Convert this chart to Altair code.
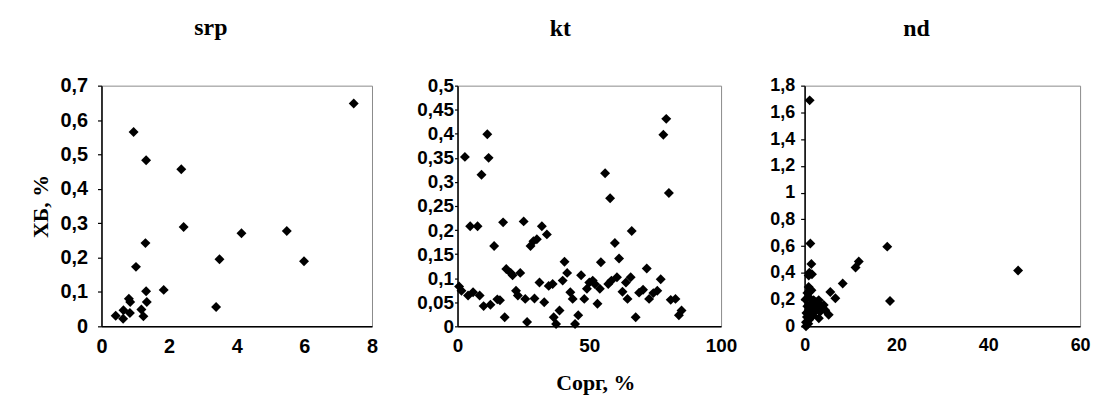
import altair as alt
import pandas as pd

# ---- data ----
srp_x = [7.46, 0.95, 1.32, 2.36, 2.43, 4.14, 5.48, 1.30, 3.49, 5.99, 1.02, 1.84,
         1.32, 0.81, 0.85, 1.34, 3.39, 1.18, 0.65, 0.84, 0.42, 1.24, 0.64]
srp_y = [0.648, 0.565, 0.483, 0.457, 0.289, 0.271, 0.277, 0.242, 0.195, 0.189, 0.173, 0.106,
         0.102, 0.080, 0.071, 0.071, 0.056, 0.049, 0.047, 0.039, 0.031, 0.029, 0.022]

kt_x = [0.6, 1.5, 2.8, 4.0, 4.8, 7.6, 5.9, 8.4, 9.1, 9.9, 11.3, 11.8, 12.5, 13.9, 15.1,
        16.1, 17.3, 17.9, 18.5, 20.2, 20.9, 22.2, 22.9, 23.8, 25.1, 25.7, 26.4, 27.7,
        28.8, 30.1, 29.2, 31.1, 32.0, 32.9, 33.9, 34.6, 36.1, 36.5, 37.4, 38.7, 39.9,
        40.6, 41.6, 42.8, 43.7, 44.6, 45.8, 46.9, 48.1, 49.1, 50.0, 51.3, 52.1, 53.1,
        54.0, 54.4, 56.0, 57.2, 57.9, 58.4, 59.7, 60.5, 61.3, 62.6, 63.9, 64.5, 66.1,
        65.7, 67.6, 68.9, 70.4, 71.8, 72.7, 74.3, 75.8, 77.1, 78.1, 79.2, 80.2, 80.9,
        82.7, 84.0, 85.0]
kt_y = [0.083, 0.074, 0.352, 0.064, 0.208, 0.208, 0.071, 0.064, 0.315, 0.042, 0.399, 0.350,
        0.045, 0.167, 0.056, 0.054, 0.216, 0.019, 0.119, 0.111, 0.106, 0.074, 0.064, 0.111,
        0.218, 0.057, 0.009, 0.167, 0.177, 0.181, 0.058, 0.091, 0.208, 0.050, 0.191, 0.084,
        0.088, 0.019, 0.005, 0.033, 0.095, 0.134, 0.111, 0.071, 0.057, 0.005, 0.023, 0.106,
        0.057, 0.078, 0.091, 0.095, 0.088, 0.047, 0.078, 0.133, 0.318, 0.088, 0.266, 0.095,
        0.173, 0.102, 0.141, 0.072, 0.091, 0.057, 0.198, 0.102, 0.019, 0.070, 0.076, 0.120,
        0.057, 0.069, 0.074, 0.098, 0.398, 0.431, 0.277, 0.055, 0.057, 0.023, 0.033]

nd_x = [1.1, 1.25, 1.47, 1.03, 1.6, 0.9, 0.88, 0.99, 1.5, 0.88, 1.97, 3.07, 2.5, 4.16,
        4.5, 3.4, 2.3, 0.9, 0.6, 1.4, 2.0, 3.6, 2.8, 0.5, 1.0, 5.25, 3.1, 1.8, 0.8, 0.3,
        0.4, 1.2, 0.2, 0.6, 5.6, 6.7, 8.3, 11.1, 11.8, 18.0, 18.6, 46.5, 0.3]
nd_y = [1.69, 0.62, 0.466, 0.40, 0.39, 0.38, 0.294, 0.257, 0.27, 0.22, 0.196, 0.196, 0.18,
        0.16, 0.12, 0.11, 0.11, 0.12, 0.15, 0.17, 0.14, 0.15, 0.13, 0.07, 0.05, 0.086, 0.06,
        0.08, 0.02, 0.0, 0.10, 0.09, 0.20, 0.25, 0.257, 0.21, 0.32, 0.44, 0.485, 0.596,
        0.19, 0.417, 0.03]

titles = ["srp", "kt", "nd"]
x_title = "Сорг, %"
y_title = "ХБ, %"

LABEL_EXPR = "replace(toString(datum.value), '.', ',')"


def panel(xs, ys, title, xdom, xvals, ydom, yvals, w, h, lab_size,
          yext, ytick, ypad, dx, ytitle=False, xtitle=False):
    df = pd.DataFrame({"x": xs, "y": ys})
    xaxis_kw = dict(values=xvals, labelExpr=LABEL_EXPR, grid=False, ticks=False,
                    labelPadding=10, labelFontSize=lab_size, labelFlush=False,
                    labelFont="Liberation Sans", labelFontWeight="bold",
                    labelColor="black", domainColor="black", domainWidth=1.5)
    if xtitle:
        xaxis_kw.update(titlePadding=18, titleFont="Liberation Serif",
                        titleFontWeight="bold", titleFontSize=22, titleColor="black",
                        titleX=w / 2 + 6)
    yaxis_kw = dict(values=yvals, labelExpr=LABEL_EXPR, grid=False, tickSize=ytick,
                    labelPadding=ypad, minExtent=yext, maxExtent=yext,
                    labelFontSize=lab_size, labelFlush=False,
                    labelFont="Liberation Sans", labelFontWeight="bold",
                    labelColor="black", domainColor="black", domainWidth=1.5,
                    tickColor="black", tickWidth=1.2)
    if ytitle:
        yaxis_kw.update(titlePadding=4, titleFont="Liberation Serif",
                        titleFontWeight="bold", titleFontSize=22, titleColor="black")
    xenc = alt.X("x:Q", scale=alt.Scale(domain=xdom, nice=False, zero=False),
                 axis=alt.Axis(**xaxis_kw),
                 title=x_title if xtitle else None)
    yenc = alt.Y("y:Q", scale=alt.Scale(domain=ydom, nice=False, zero=False),
                 axis=alt.Axis(**yaxis_kw),
                 title=y_title if ytitle else None)
    return alt.Chart(df).mark_point(
        shape="diamond", filled=True, size=100, color="black", opacity=1
    ).encode(x=xenc, y=yenc).properties(
        width=w, height=h,
        title=alt.TitleParams(text=title, font="Liberation Serif", fontSize=24,
                              fontWeight="bold", color="black", dx=dx, offset=36,
                              anchor="middle"),
    )


p1 = panel(srp_x, srp_y, titles[0], [0, 8], [0, 2, 4, 6, 8], [0, 0.7],
           [0, 0.1, 0.2, 0.3, 0.4, 0.5, 0.6, 0.7], 272, 242, 20, 45, 4, 10, -26,
           ytitle=True)
p2 = panel(kt_x, kt_y, titles[1], [0, 100], [0, 50, 100], [0, 0.5],
           [0, 0.05, 0.1, 0.15, 0.2, 0.25, 0.3, 0.35, 0.4, 0.45, 0.5], 265, 242, 19,
           47, 3, 1, -29, xtitle=True)
p3 = panel(nd_x, nd_y, titles[2], [0, 60], [0, 20, 40, 60], [0, 1.8],
           [0, 0.2, 0.4, 0.6, 0.8, 1, 1.2, 1.4, 1.6, 1.8], 277, 242, 18, 35, 4, 6, -26)

chart = alt.hconcat(p1, p2, p3, spacing=31, background="white").properties(
    padding={"left": 21, "top": 6, "right": 5, "bottom": 5}
).configure_view(
    stroke="#8a8a8a", strokeWidth=1
)

chart.save("out.html", embed_options={"renderer": "svg", "actions": False})
